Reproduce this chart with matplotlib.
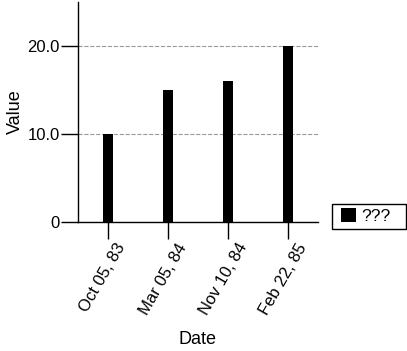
import matplotlib
matplotlib.use("Agg")
import matplotlib.pyplot as plt
from matplotlib.patches import Patch, Rectangle
from matplotlib.transforms import ScaledTranslation

dates = ["Oct 05, 83", "Mar 05, 84", "Nov 10, 84", "Feb 22, 85"]
values = [10, 15, 16, 20]
series_name = "???"

plt.rcParams["font.family"] = ["Liberation Sans", "DejaVu Sans"]

W, H = 407, 351
fig = plt.figure(figsize=(W / 100, H / 100), dpi=100)
ax = fig.add_axes([78 / W, 1 - 222 / H, 240 / W, 220 / H])

x = list(range(len(dates)))
ax.bar(x, values, width=0.18, color="black", zorder=3)

ax.set_xlim(-0.5, len(dates) - 0.5)
ax.set_ylim(0, 25)
ax.set_yticks([0, 10, 20])
ax.set_yticklabels(["0", "10.0", "20.0"])
ax.set_xticks(x)

ax.spines["top"].set_visible(False)
ax.spines["right"].set_visible(False)
ax.spines["left"].set_linewidth(1)
ax.spines["bottom"].set_linewidth(1)
ax.tick_params(axis="both", length=12, width=1, labelsize=12, color="black")
ax.tick_params(axis="y", pad=1)
ax.tick_params(axis="x", pad=1.5)

# rotated date labels, nudged a bit left of their ticks
ax.set_xticklabels(dates, rotation=60, ha="center")
shift = ScaledTranslation(-5 / 100, 0, fig.dpi_scale_trans)
for lab in ax.get_xticklabels():
    lab.set_transform(lab.get_transform() + shift)

ax.yaxis.grid(True, linestyle="--", color="#999999", linewidth=0.8)
ax.set_axisbelow(True)

ax.set_xlabel("Date", fontsize=13)
ax.set_ylabel("Value", fontsize=13)
ax.xaxis.set_label_coords(0.5, (222 - 340) / 220)
ax.xaxis.label.set_va("center")
ax.yaxis.set_label_coords((15 - 78) / 240, 0.5)
ax.yaxis.label.set_va("center")

# legend: black square + label, framed box to the right of the plot
leg = fig.legend(handles=[Patch(facecolor="black", label=series_name)],
                 loc="center left", bbox_to_anchor=(341 / W, 1 - 216 / H),
                 fontsize=12.5, frameon=False,
                 handlelength=0.85, handleheight=0.85, handletextpad=0.3,
                 borderpad=0, borderaxespad=0)
fig.patches.append(Rectangle((332 / W, 1 - 229 / H), 74 / W, 25 / H,
                             transform=fig.transFigure, fill=False,
                             edgecolor="black", linewidth=1))

fig.savefig("out.png", dpi=100)
